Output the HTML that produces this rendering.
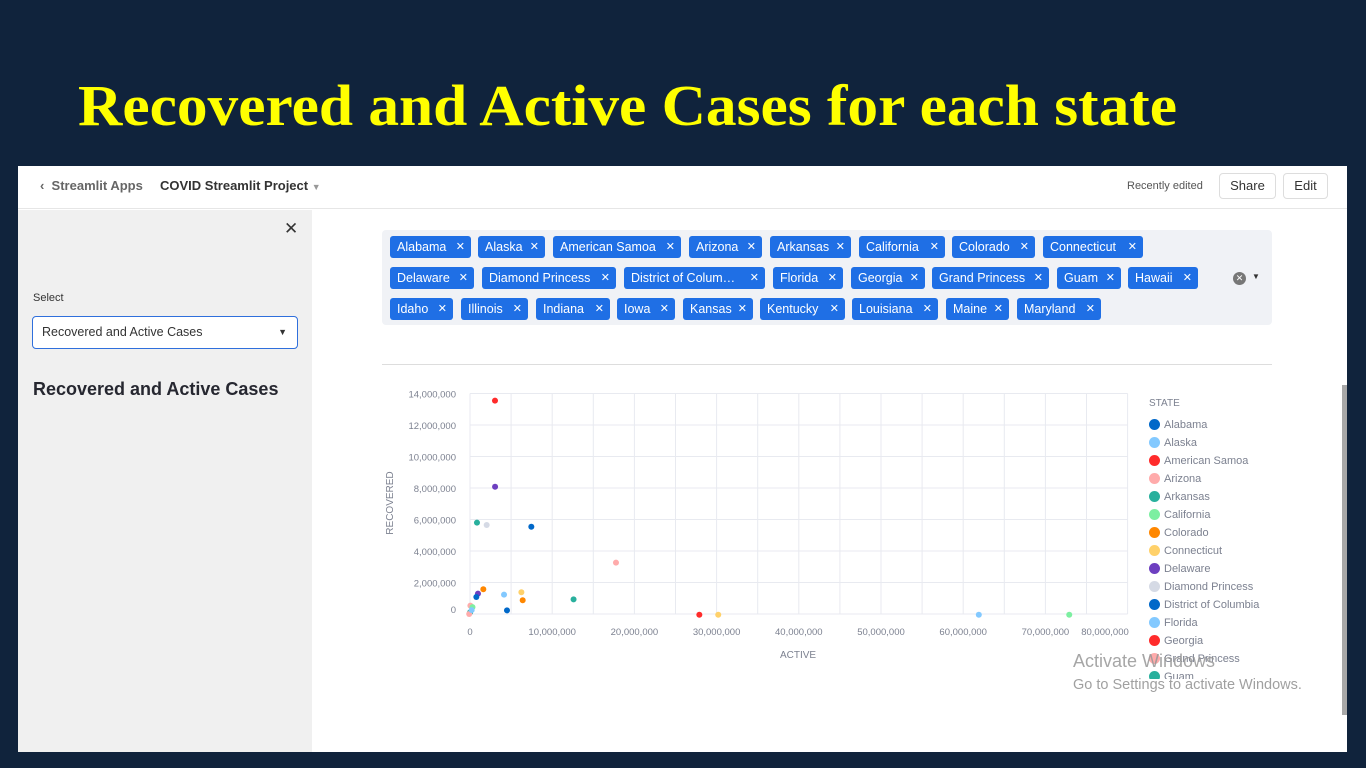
<!DOCTYPE html>
<html><head><meta charset="utf-8"><style>
*{margin:0;padding:0;box-sizing:border-box}
body{width:1366px;height:768px;background:#10233c;position:relative;overflow:hidden;font-family:"Liberation Sans",sans-serif}
.abs{position:absolute}
.tag{position:absolute;height:22px;background:#1f6fe5;color:#fff;font-size:12.5px;line-height:22px;padding-left:7px;border-radius:3px;white-space:nowrap;overflow:hidden}
.tag span{position:absolute;right:6px;top:0;font-size:11px}
.leg{position:absolute;left:1149px;font-size:11px;color:#7c8190;height:14px;line-height:14px;white-space:nowrap}
.leg i{display:inline-block;width:11px;height:11px;border-radius:50%;vertical-align:-2px;margin-right:4px}
</style></head><body>
<svg class="abs" style="left:0;top:0" width="1366" height="160">
<text x="78" y="125" font-family="Liberation Serif, serif" font-weight="bold" font-size="58" fill="#ffff00" textLength="1099" lengthAdjust="spacingAndGlyphs">Recovered and Active Cases for each state</text>
</svg>
<div class="abs" style="left:18px;top:166px;width:1329px;height:586px;background:#fff"></div>
<div class="abs" style="left:18px;top:166px;width:1329px;height:43px;border-bottom:1px solid #e6e6e6;font-size:13px">
 <span class="abs" style="left:22px;top:12px;color:#666;font-weight:bold">‹&nbsp; Streamlit Apps</span>
 <span class="abs" style="left:142px;top:12px;color:#333;font-weight:bold">COVID Streamlit Project <span style="color:#999;font-size:9px">▼</span></span>
 <span class="abs" style="left:1109px;top:14px;color:#555;font-size:11px">Recently edited</span>
 <div class="abs" style="left:1201px;top:7px;width:57px;height:26px;border:1px solid #ddd;border-radius:4px;text-align:center;line-height:24px;color:#333">Share</div>
 <div class="abs" style="left:1265px;top:7px;width:45px;height:26px;border:1px solid #ddd;border-radius:4px;text-align:center;line-height:24px;color:#333">Edit</div>
</div>
<div class="abs" style="left:18px;top:210px;width:294px;height:542px;background:#f0f0f0">
 <span class="abs" style="left:266px;top:9px;font-size:17px;color:#333">✕</span>
 <span class="abs" style="left:15px;top:82px;font-size:11px;color:#333">Select</span>
 <div class="abs" style="left:14px;top:106px;width:266px;height:33px;background:#fff;border:1px solid #2f6fdc;border-radius:4px;font-size:12.5px;color:#333;line-height:31px;padding-left:9px">Recovered and Active Cases<span style="position:absolute;right:10px;font-size:9px">▼</span></div>
 <div class="abs" style="left:15px;top:169px;font-size:18px;font-weight:bold;color:#262730">Recovered and Active Cases</div>
</div>
<div class="abs" style="left:382px;top:230px;width:890px;height:95px;background:#f0f2f6;border-radius:4px"></div>
<div id="tags"></div>
<div class="abs" style="left:1233px;top:272px;width:13px;height:13px;border-radius:50%;background:#777;color:#fff;font-size:9px;text-align:center;line-height:13px">✕</div>
<span class="abs" style="left:1252px;top:272px;font-size:8px;color:#333">▼</span>
<div class="abs" style="left:382px;top:364px;width:890px;height:1px;background:#ddd"></div>
<svg class="abs" id="chart" style="left:0;top:0" width="1366" height="768"></svg>
<div class="abs" style="left:1149px;top:398px;font-size:10px;color:#7c8190">STATE</div>
<div id="legend"></div>
<div class="abs" style="left:1342px;top:385px;width:5px;height:330px;background:#a8a8a8"></div>
<div class="abs" style="left:1073px;top:651px;font-size:18px;color:rgba(150,150,150,.85)">Activate Windows</div>
<div class="abs" style="left:1073px;top:677px;font-size:14.5px;color:rgba(150,150,150,.9)">Go to Settings to activate Windows.</div>
<script>
const tagRows=[[["Alabama",390,471],["Alaska",478,545],["American Samoa",553,681],["Arizona",689,762],["Arkansas",770,851],["California",859,945],["Colorado",952,1035],["Connecticut",1043,1143]],
[["Delaware",390,474],["Diamond Princess",482,616],["District of Colum…",624,765],["Florida",773,843],["Georgia",851,925],["Grand Princess",932,1049],["Guam",1057,1121],["Hawaii",1128,1198]],
[["Idaho",390,453],["Illinois",461,528],["Indiana",536,610],["Iowa",617,675],["Kansas",683,753],["Kentucky",760,845],["Louisiana",852,938],["Maine",946,1009],["Maryland",1017,1101]]];
const tagTops=[236,267,298];
const tc=document.getElementById('tags');
tagRows.forEach((r,i)=>r.forEach(t=>{const d=document.createElement('div');d.className='tag';


d.style.left=t[1]+'px';d.style.top=tagTops[i]+'px';d.style.width=(t[2]-t[1])+'px';d.innerHTML=t[0]+'<span>✕</span>';tc.appendChild(d);}));

const legendStates=["Alabama","Alaska","American Samoa","Arizona","Arkansas","California","Colorado","Connecticut","Delaware","Diamond Princess","District of Columbia","Florida","Georgia","Grand Princess","Guam"];
const palette=["#0068c9","#83c9ff","#ff2b2b","#ffabab","#29b09d","#7defa1","#ff8700","#ffd16a","#6d3fc0","#d5dae5"];
const pointState=["Georgia","Delaware","Arkansas","Diamond Princess","District of Columbia","Arizona","Colorado","Florida","Connecticut","Colorado","Arkansas","Delaware","Alabama","Alabama","Arizona","California","Guam","Grand Princess","Alaska","American Samoa","Connecticut","Alaska","California"];
const active=[3.04,3.05,0.85,2.03,7.46,17.76,1.62,4.14,6.25,6.41,12.6,0.97,0.77,4.5,0.05,0.3,0.01,-0.1,0.2,27.9,30.2,61.9,72.9];
const recovered=[13.55,8.08,5.8,5.65,5.54,3.26,1.57,1.23,1.38,0.87,0.93,1.29,1.08,0.23,0.53,0.44,0.1,0.0,0.25,-0.05,-0.05,-0.05,-0.05];
const xTicks=[0,10,20,30,40,50,60,70,80];
const yTicks=[0,2,4,6,8,10,12,14];
const xGrid=[0,5,10,15,20,25,30,35,40,45,50,55,60,65,70,75,80];
const X=v=>470+v*8.22, Y=v=>614-v*15.75;
const svg=document.getElementById('chart');const NS='http://www.w3.org/2000/svg';
function mk(t,a,txt){const e=document.createElementNS(NS,t);for(const k in a)e.setAttribute(k,a[k]);if(txt!=null)e.textContent=txt;svg.appendChild(e);return e;}
const fmt=v=>v===0?'0':(v*1e6).toLocaleString('en-US');
xGrid.forEach(v=>{const l=mk('line',{x1:X(v),x2:X(v),y1:Y(14),y2:Y(0),stroke:'#e8eaf0'});

});
yTicks.forEach(v=>{const l=mk('line',{x1:X(0),x2:X(80),y1:Y(v),y2:Y(v),stroke:'#e8eaf0'});


const t=mk('text',{x:456,y:Y(v)+(v===0?-1:4),'text-anchor':'end','font-size':'9.5',fill:'#7c8190'},fmt(v));

});
xTicks.forEach(v=>{const t=mk('text',{x:Math.min(X(v),1105),y:635,'text-anchor':'middle','font-size':'9.5',fill:'#7c8190'},fmt(v));

});
const xt=mk('text',{x:798,y:658,'text-anchor':'middle','font-size':'10',fill:'#7c8190'},'ACTIVE');


const yt=mk('text',{x:393,y:503,'text-anchor':'middle','font-size':'10',fill:'#7c8190',transform:'rotate(-90 393 503)'},'RECOVERED');


active.forEach((a,i)=>{const c=mk('circle',{cx:X(a),cy:Y(recovered[i]),r:3,fill:palette[legendStates.indexOf(pointState[i])%10]});

});
const lg=document.getElementById('legend');
legendStates.forEach((s,i)=>{const d=document.createElement('div');d.className='leg';


d.style.top=(418+i*18)+'px';
if(i===14){d.style.height='9px';d.style.overflow='hidden';}
d.innerHTML='<i style="background:'+palette[i%10]+'"></i>'+s;lg.appendChild(d);});
</script>
</body></html>
